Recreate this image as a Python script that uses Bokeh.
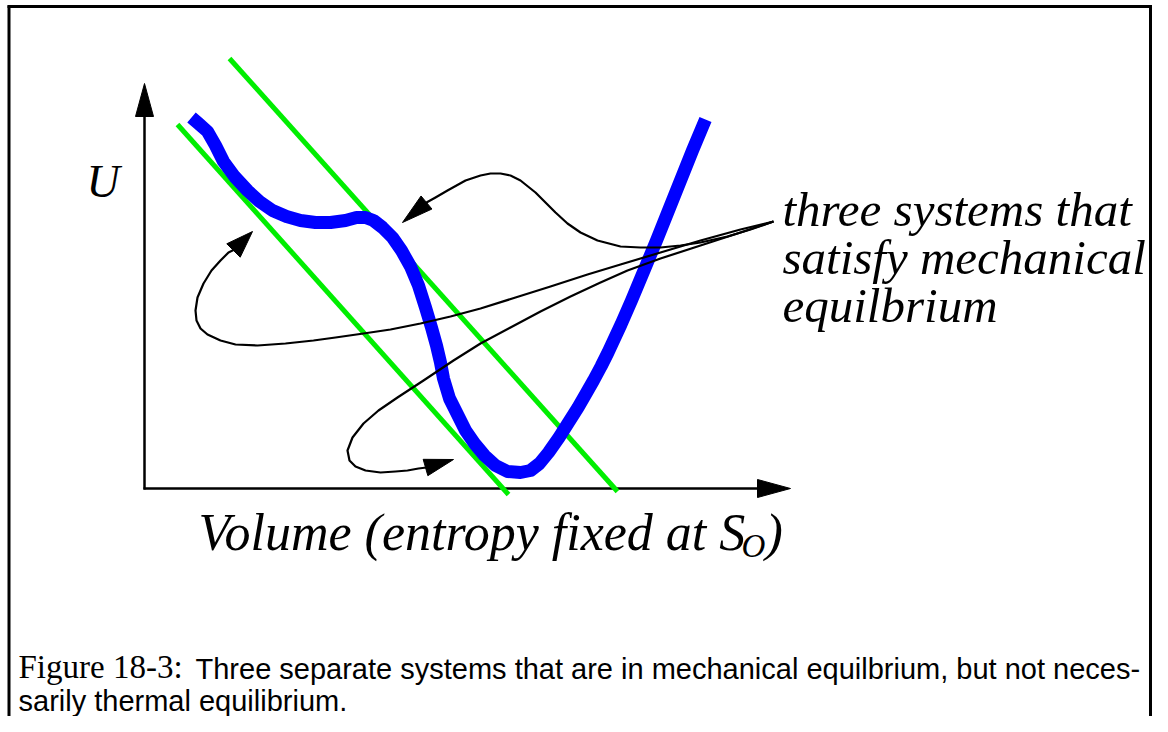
import math
from bokeh.plotting import figure
from bokeh.models import Range1d
from bokeh.core.properties import value
from bokeh.embed import file_html
from bokeh.resources import INLINE

# ---- data (diagram coordinates, y grows downward) ----
curve_x = [191, 198, 207, 215, 223, 234, 247, 259, 272, 286, 300, 315, 330, 345, 356, 365, 373, 382, 392, 401,
           410, 418, 425, 431, 436, 440, 443, 449, 457, 465, 474, 484, 495, 507, 520, 530, 539, 548, 558.5, 568,
           577.5, 585, 593, 600.5, 607.5, 614, 620.5, 631, 643.5, 656, 668, 680, 692, 705]
curve_y = [117, 123, 131, 145, 161, 176, 190, 201, 210, 216, 220, 222, 222, 220, 217, 217, 220, 227, 237, 250,
           266, 285, 307, 327, 345, 362, 378, 398, 414, 430, 443, 455, 465, 471, 472, 470, 463, 452, 437, 422,
           407, 394, 380, 366, 352, 338, 324, 300, 270, 240, 210, 180, 150, 119]

tangent_x0 = [177, 229]
tangent_y0 = [124, 58]
tangent_x1 = [508, 617]
tangent_y1 = [494, 491]

pointer_a_x = [773, 750, 727, 700, 680, 660, 640, 620, 597, 580, 567, 555, 545, 535, 520, 510, 500, 490, 480, 465, 447, 435, 426]
pointer_a_y = [221, 229, 236, 242, 245, 247, 247, 246, 240, 232, 223, 212, 202, 192, 180, 175, 173, 173, 175, 180, 190, 197, 202]

pointer_b_x = [773, 740, 700, 660, 620, 587, 550, 515, 480, 450, 420, 390, 363, 335, 313, 285, 257, 235, 220, 207,
               200, 196, 195, 197, 203, 211, 220, 228, 234]
pointer_b_y = [221, 229, 240, 252, 264, 274, 286, 297, 308, 316, 323, 329, 333, 337, 340, 343, 345, 344, 340, 334,
               328, 320, 310, 297, 283, 270, 260, 252, 249]

pointer_c_x = [773, 740, 700, 660, 627, 600, 570, 540, 510, 480, 453, 423, 397, 378, 363, 352, 347, 349, 355, 365,
               380, 395, 407, 418, 426]
pointer_c_y = [221, 232, 245, 258, 270, 282, 296, 311, 327, 343, 360, 380, 397, 410, 423, 437, 450, 460, 466, 470,
               472, 471, 470, 468, 467]

# arrowheads: tip and base centre
head_tip_x = [144, 790, 402, 252, 453]
head_tip_y = [83, 488, 222, 231, 459]
head_base_x = [144, 757, 426, 233, 425]
head_base_y = [116, 488, 202, 250, 467]
head_half = [9, 9, 8.5, 9.5, 8.5]

label_lines = ["three systems that", "satisfy mechanical", "equilbrium"]
axis_label_main = "Volume (entropy fixed at S"
axis_label_sub = "O"
axis_label_end = ")"
y_label = "U"
caption_head = "Figure 18-3:"
caption_line1 = "Three separate systems that are in mechanical equilbrium, but not neces-"
caption_line2 = "sarily thermal equilibrium."

# ---- figure: one data unit = one pixel ----
W, H = 1152, 716
p = figure(width=W, height=H, x_range=Range1d(0, W), y_range=Range1d(H, 0),
           x_axis_type=None, y_axis_type=None, output_backend="svg", toolbar_location=None,
           min_border=0)
p.grid.visible = False
p.outline_line_color = None
p.background_fill_color = "white"
p.border_fill_color = "white"

# frame
p.segment(x0=[7, 8.5, 1150], y0=[6, 5, 5], x1=[1151.5, 8.5, 1150], y1=[6, H, H],
          line_color="black", line_width=3)

# axes
p.segment(x0=[144, 143], y0=[489, 488], x1=[144, 760], y1=[112, 488], line_color="black", line_width=2.5)

# tangent lines
p.segment(x0=tangent_x0, y0=tangent_y0, x1=tangent_x1, y1=tangent_y1, line_color="#00ee00", line_width=5)

# energy curve
p.line(curve_x, curve_y, line_color="#0000ff", line_width=13, line_join="round", line_cap="butt")

# pointer curves
for xs, ys in [(pointer_a_x, pointer_a_y), (pointer_b_x, pointer_b_y), (pointer_c_x, pointer_c_y)]:
    p.line(xs, ys, line_color="black", line_width=2.2, line_join="round")

# arrowheads
hx, hy = [], []
for tx, ty, bx, by, hw in zip(head_tip_x, head_tip_y, head_base_x, head_base_y, head_half):
    dx, dy = tx - bx, ty - by
    L = math.hypot(dx, dy)
    nx, ny = -dy / L, dx / L
    hx.append([tx, bx + nx * hw, bx - nx * hw])
    hy.append([ty, by + ny * hw, by - ny * hw])
p.patches(hx, hy, fill_color="black", line_color="black", line_width=1)

serif = value("Liberation Serif")
sans = value("Liberation Sans")


def put(x, baseline, txt, font, size, italic=False):
    # place text by its baseline (middle anchor offset for Liberation metrics)
    mid = baseline - 0.3375 * size
    p.text(x=[x], y=[mid], text=[txt], text_font=font, text_font_style="italic" if italic else "normal",
           text_font_size=f"{size}px", text_baseline="middle", text_align="left", text_color="black")


# labels
for i, line in enumerate(label_lines):
    put(782, 226 + 48 * i, line, serif, 49, italic=True)
put(86, 197, y_label, serif, 46, italic=True)
put(198, 550, axis_label_main, serif, 52, italic=True)
put(741, 557, axis_label_sub, serif, 33, italic=True)
put(765, 550, axis_label_end, serif, 52, italic=True)

# caption
put(18, 678, caption_head, serif, 33)
put(195, 678, caption_line1, sans, 29)
put(18, 710, caption_line2, sans, 29)

open("out.html", "w").write(file_html(p, INLINE))
